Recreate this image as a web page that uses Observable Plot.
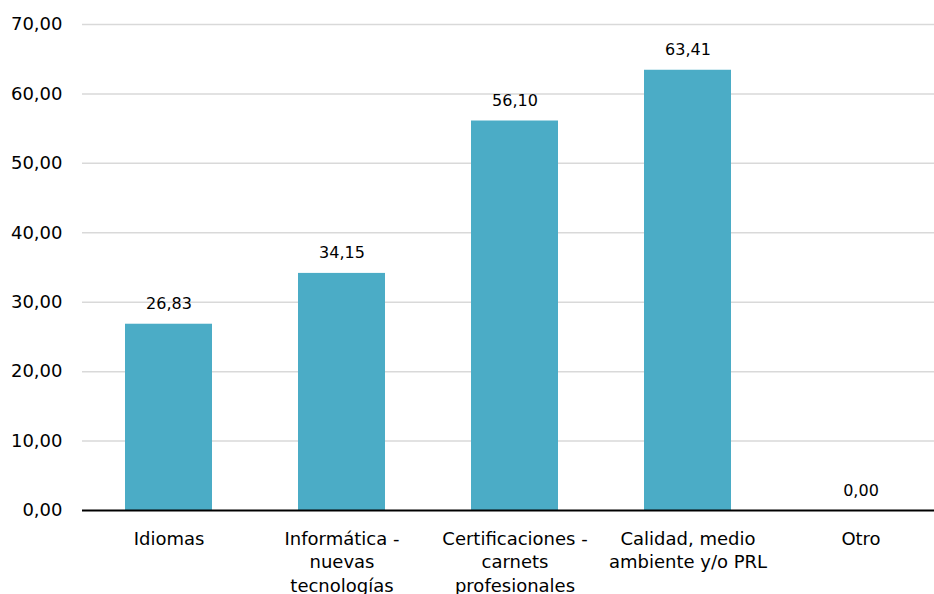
<!DOCTYPE html>
<html>
<head>
<meta charset="utf-8">
<script src="https://cdn.jsdelivr.net/npm/d3@7"></script>
<script src="https://cdn.jsdelivr.net/npm/@observablehq/plot@0.6"></script>
<style>
  html, body { margin: 0; padding: 0; background: #fff; }
  #chart svg { display: block; }
</style>
</head>
<body>
<div id="chart"></div>
<script>
const categories = ["Idiomas", "Informática - nuevas tecnologías", "Certificaciones - carnets profesionales", "Calidad, medio ambiente y/o PRL", "Otro"];
const categoryLabels = ["Idiomas", "Informática -\nnuevas\ntecnologías", "Certificaciones -\ncarnets\nprofesionales", "Calidad, medio\nambiente y/o PRL", "Otro"];
const values = [26.83, 34.15, 56.10, 63.41, 0.00];
const yTicks = [0, 10, 20, 30, 40, 50, 60, 70];

const data = categories.map((c, i) => ({category: c, value: values[i]}));
const labelOf = new Map(categories.map((c, i) => [c, categoryLabels[i]]));
const fmt = v => v.toFixed(2).replace(".", ",");

const font = "'DejaVu Sans', Verdana, sans-serif";

const chart = Plot.plot({
  width: 934,
  height: 594,
  marginLeft: 82,
  marginRight: 0,
  marginTop: 24,
  marginBottom: 84,
  style: {fontFamily: font, color: "#000", background: "#fff"},
  x: {domain: categories, range: [82, 947], paddingInner: 0.5, paddingOuter: 0.25, axis: null},
  y: {domain: [0, 70], axis: null},
  marks: [
    Plot.ruleY(yTicks.filter(d => d > 0), {stroke: "#d9d9d9", strokeWidth: 1.5}),
    Plot.barY(data, {x: "category", y: "value", fill: "#4BACC6"}),
    Plot.ruleY([0], {stroke: "#000", strokeWidth: 2}),
    Plot.axisY({ticks: yTicks, tickSize: 0, tickPadding: 20, tickFormat: fmt, fontSize: 18, label: null}),
    Plot.axisX({tickSize: 0, tickPadding: 17, tickFormat: d => labelOf.get(d), fontSize: 18, lineHeight: 1.33, label: null}),
    Plot.text(data, {x: "category", y: "value", text: d => fmt(d.value), lineAnchor: "bottom", dy: -15, fontSize: 16, fill: "#000"})
  ]
});
document.getElementById("chart").appendChild(chart);
</script>
</body>
</html>
